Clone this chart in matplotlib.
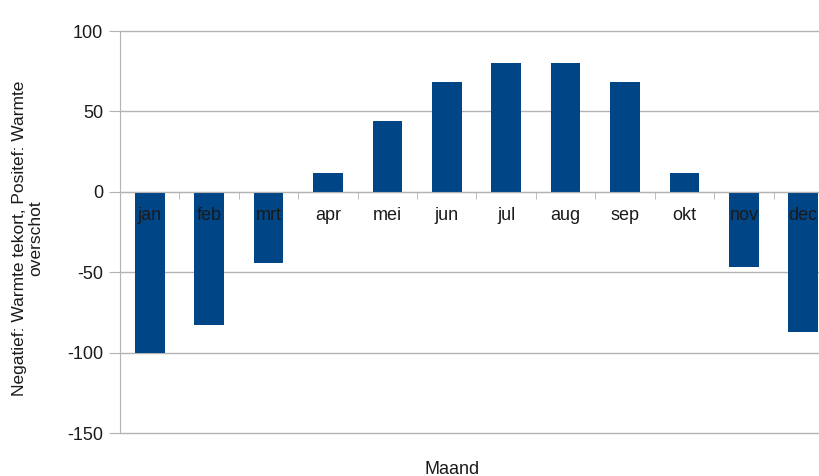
import numpy as np
import matplotlib.pyplot as plt
from matplotlib.ticker import MultipleLocator

plt.rcParams['font.family'] = ['Liberation Sans', 'DejaVu Sans']
plt.rcParams['axes.unicode_minus'] = False

maanden = ['jan', 'feb', 'mrt', 'apr', 'mei', 'jun', 'jul', 'aug', 'sep', 'okt', 'nov', 'dec']
warmte = [-100, -83, -44, 12, 44, 68, 80, 80, 68, 12, -47, -87]

blauw = '#004586'
grijs = '#b3b3b3'

fig = plt.figure(figsize=(8.2, 4.76), dpi=100)
ax = fig.add_axes([120 / 820, 43 / 476, 713 / 820, 402 / 476])

x = np.arange(len(maanden))
ax.bar(x, warmte, width=0.5, color=blauw, zorder=2)

ax.set_xlim(-0.5, 11.5)
ax.set_ylim(-150, 100)
ax.yaxis.set_major_locator(MultipleLocator(50))
# gridlines under the bars, axis (and month labels) over them
ax.set_axisbelow(False)
for yv in ax.get_yticks():
    if -150 <= yv <= 100:
        ax.axhline(yv, color=grijs, linewidth=1, zorder=0, clip_on=False)

for s in ['top', 'right']:
    ax.spines[s].set_visible(False)
ax.spines['left'].set_color(grijs)
ax.spines['bottom'].set_position(('data', 0))
ax.spines['bottom'].set_color(grijs)

ax.set_xticks(x)
ax.set_xticklabels(maanden)
ax.set_xticks(x[:-1] + 0.5, minor=True)
ax.tick_params(axis='x', which='major', length=0, pad=11, labelsize=13, labelcolor='#1a1a1a')
ax.tick_params(axis='x', which='minor', length=5, color=grijs, direction='out')
ax.tick_params(axis='y', length=8, color=grijs, labelsize=13, labelcolor='#1a1a1a', pad=4)

fig.text(28 / 820, 238 / 476, 'Negatief: Warmte tekort, Positef: Warmte\noverschot',
         rotation=90, ha='center', va='center', fontsize=12.5, color='#1a1a1a',
         multialignment='center', linespacing=1.1)
fig.text(452 / 820, 7 / 476, 'Maand', ha='center', va='center', fontsize=13, color='#1a1a1a')

fig.savefig('out.png', dpi=100)
